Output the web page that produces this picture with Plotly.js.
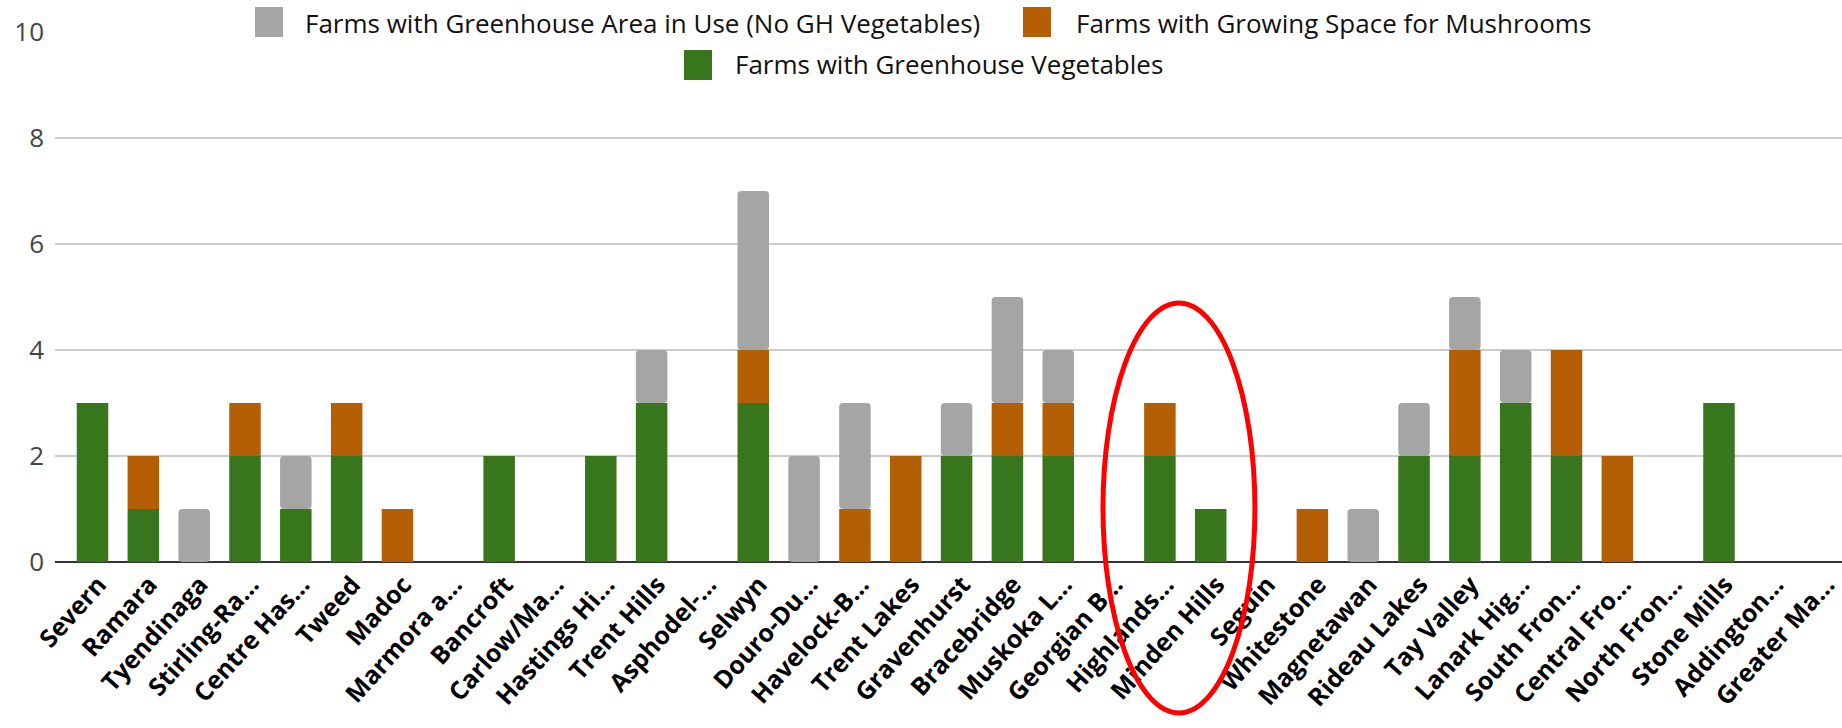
<!DOCTYPE html>
<html>
<head>
<meta charset="utf-8">
<script src="https://cdn.plot.ly/plotly-3.0.1.min.js"></script>
<style>html,body{margin:0;padding:0;background:#fff;}#chart{width:1842px;height:728px;}</style>
</head>
<body>
<div id="chart"></div>
<script>
const categories = ["Severn","Ramara","Tyendinaga","Stirling-Ra…","Centre Has…","Tweed","Madoc","Marmora a…","Bancroft","Carlow/Ma…","Hastings Hi…","Trent Hills","Asphodel-…","Selwyn","Douro-Du…","Havelock-B…","Trent Lakes","Gravenhurst","Bracebridge","Muskoka L…","Georgian B…","Highlands…","Minden Hills","Seguin","Whitestone","Magnetawan","Rideau Lakes","Tay Valley","Lanark Hig…","South Fron…","Central Fro…","North Fron…","Stone Mills","Addington…","Greater Ma…"];
const greenhouseVegetables = [3,1,0,2,1,2,0,0,2,0,2,3,0,3,0,0,0,2,2,2,0,2,1,0,0,0,2,2,3,2,0,0,3,0,0];
const mushroomSpace = [0,1,0,1,0,1,1,0,0,0,0,0,0,1,0,1,2,0,1,1,0,1,0,0,1,0,0,2,0,2,2,0,0,0,0];
const greenhouseNoVeg = [0,0,1,0,1,0,0,0,0,0,0,1,0,3,2,2,0,1,2,1,0,0,0,0,0,1,1,1,1,0,0,0,0,0,0];
const seriesNames = ["Farms with Greenhouse Area in Use (No GH Vegetables)","Farms with Growing Space for Mushrooms","Farms with Greenhouse Vegetables"];
const seriesColors = {veg:"#38761d", mush:"#b45f06", gh:"#a5a5a5"};
const yTicks = [0,2,4,6,8,10];

const W = 1842, H = 728;
const M = {l:55, r:0, t:32, b:166};
const PW = W - M.l - M.r, PH = H - M.t - M.b;
const px2x = p => (p - M.l) / PW;
const px2y = p => (H - M.b - p) / PH;

const baseMush = greenhouseVegetables.slice();
const baseGh = greenhouseVegetables.map((v,i) => v + mushroomSpace[i]);

const common = {type:"bar", x:categories, width:0.62, hoverinfo:"x+y+name", showlegend:false};
const traces = [
  Object.assign({}, common, {name:seriesNames[2], y:greenhouseVegetables, marker:{color:seriesColors.veg}}),
  Object.assign({}, common, {name:seriesNames[1], y:mushroomSpace, base:baseMush, marker:{color:seriesColors.mush}}),
  Object.assign({}, common, {name:seriesNames[0], y:greenhouseNoVeg, base:baseGh, marker:{color:seriesColors.gh, cornerradius:4}})
];

const legendItems = [
  {name:seriesNames[0], color:seriesColors.gh, sx:255, sy:7, tx:303, ty:23.5},
  {name:seriesNames[1], color:seriesColors.mush, sx:1023, sy:7, tx:1074, ty:23.5},
  {name:seriesNames[2], color:seriesColors.veg, sx:684, sy:50, tx:733, ty:64}
];
const shapes = legendItems.map(it => ({type:"rect", xref:"paper", yref:"paper",
  x0:px2x(it.sx), x1:px2x(it.sx+28), y0:px2y(it.sy+30), y1:px2y(it.sy),
  fillcolor:it.color, line:{width:0}, layer:"above"}));
shapes.push({type:"circle", xref:"x", yref:"paper", x0:19.88, x1:22.87, y0:px2y(713), y1:px2y(303),
  line:{color:"#ff0000", width:5}, fillcolor:"rgba(0,0,0,0)", layer:"above"});
const annotations = legendItems.map(it => ({xref:"paper", yref:"paper", x:px2x(it.tx), y:px2y(it.ty),
  xanchor:"left", yanchor:"middle", showarrow:false, text:it.name,
  font:{family:"Open Sans", size:26, color:"#111111"}}));

const layout = {
  width:W, height:H, margin:M, barmode:"overlay",
  paper_bgcolor:"#ffffff", plot_bgcolor:"#ffffff", showlegend:false,
  font:{family:"Open Sans"},
  xaxis:{type:"category", range:[-0.738, 34.42], tickangle:-48, showgrid:false, ticks:"", showline:false,
    ticklabelshift:6, ticklabelstandoff:2,
    tickfont:{family:"Open Sans", size:25, color:"#000", weight:700}, automargin:false},
  yaxis:{range:[0,10], tickvals:yTicks, ticks:"", showgrid:true, gridcolor:"#cccccc", gridwidth:1.5,
    zeroline:true, zerolinecolor:"#333333", zerolinewidth:2, showline:false, ticklabelstandoff:10,
    tickfont:{family:"Open Sans", size:26, color:"#444"}, automargin:false},
  shapes:shapes, annotations:annotations
};
Plotly.newPlot("chart", traces, layout, {displayModeBar:false, staticPlot:true});
</script>
</body>
</html>
